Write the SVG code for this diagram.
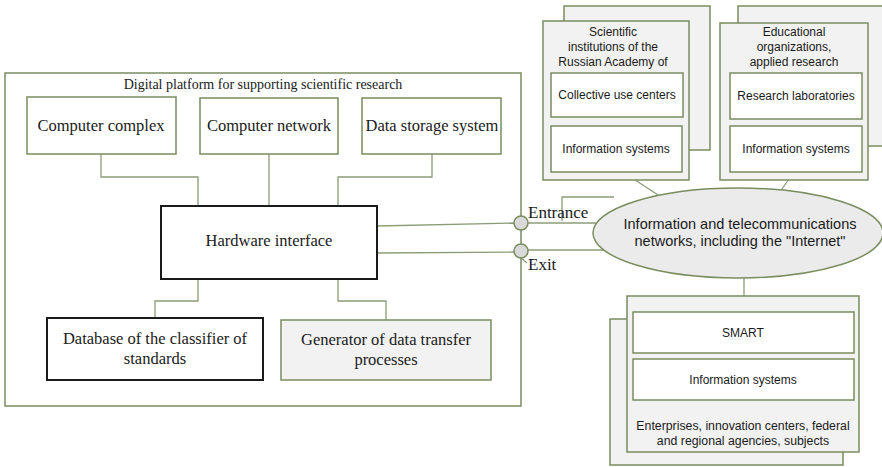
<svg xmlns="http://www.w3.org/2000/svg" width="882" height="467" viewBox="0 0 882 467">
  <style>
    .frame { fill: #ffffff; stroke: #7a8c5e; stroke-width: 1.5; }
    .box { fill: #ffffff; stroke: #7a8c5e; stroke-width: 1.5; }
    .grey { fill: #f2f2f2; stroke: #7a8c5e; stroke-width: 1.5; }
    .dark { fill: #ffffff; stroke: #1a1a1a; stroke-width: 2; }
    .wire { fill: none; stroke: #8d9c78; stroke-width: 1.3; }
    .port { fill: #d9d9d9; stroke: #7a8c5e; stroke-width: 1.5; }
    .serif { font-family: "Liberation Serif", "Times New Roman", serif; fill: #1a1a1a; text-anchor: middle; font-size: 16.5px; }
    .label { font-family: "Liberation Serif", "Times New Roman", serif; fill: #1a1a1a; text-anchor: start; font-size: 17px; }
    .sans { font-family: "Liberation Sans", Arial, sans-serif; fill: #1a1a1a; text-anchor: middle; font-size: 12px; }
  </style>

  <!-- platform frame -->
  <g id="platform">
    <rect class="frame" x="5" y="73" width="516" height="333"/>
    <text class="serif" x="263" y="89" style="font-size:14px">Digital platform for supporting scientific research</text>
  </g>

  <!-- connectors -->
  <g id="connectors">
    <polyline class="wire" points="101,154 101,177 198,177 198,206"/>
    <line class="wire" x1="269" y1="154" x2="269" y2="206"/>
    <polyline class="wire" points="432,154 432,177 338,177 338,206"/>
    <polyline class="wire" points="198,279 198,301 155,301 155,318"/>
    <polyline class="wire" points="338,279 338,301 386,301 386,320"/>
    <line class="wire" x1="377" y1="226" x2="515" y2="223"/>
    <line class="wire" x1="377" y1="253" x2="515" y2="252"/>
    <line class="wire" x1="528" y1="223" x2="596" y2="223"/>
    <line class="wire" x1="528" y1="250" x2="610" y2="250"/>
    <line class="wire" x1="521" y1="258" x2="527" y2="263"/>
    <polyline class="wire" points="562,221 562,197 614,197"/>
    <line class="wire" x1="617" y1="168" x2="658" y2="195"/>
    <line class="wire" x1="795" y1="170" x2="780" y2="192"/>
    <line class="wire" x1="744" y1="278" x2="744" y2="312"/>
  </g>

  <g id="computer-complex">
    <rect class="box" x="27" y="97" width="149" height="57"/>
    <text class="serif" x="101" y="131">Computer complex</text>
  </g>
  <g id="computer-network">
    <rect class="box" x="200" y="98" width="138" height="56"/>
    <text class="serif" x="269" y="131">Computer network</text>
  </g>
  <g id="data-storage">
    <rect class="box" x="362" y="98" width="139" height="56"/>
    <text class="serif" x="432" y="131">Data storage system</text>
  </g>
  <g id="hardware-interface">
    <rect class="dark" x="161" y="206" width="216" height="73"/>
    <text class="serif" x="269" y="246">Hardware interface</text>
  </g>
  <g id="database">
    <rect class="dark" x="47" y="318" width="216" height="62"/>
    <text class="serif" x="155" y="344">Database of the classifier of</text>
    <text class="serif" x="155" y="364">standards</text>
  </g>
  <g id="generator">
    <rect class="grey" x="281" y="320" width="210" height="60"/>
    <text class="serif" x="386" y="345">Generator of data transfer</text>
    <text class="serif" x="386" y="365">processes</text>
  </g>

  <!-- entrance / exit ports -->
  <g id="entrance">
    <circle class="port" cx="521" cy="223" r="7"/>
    <text class="label" x="528" y="218">Entrance</text>
  </g>
  <g id="exit">
    <circle class="port" cx="521" cy="251" r="7"/>
    <text class="label" x="528" y="270">Exit</text>
  </g>

  <g id="academy">
    <rect class="grey" x="564" y="6" width="146" height="144"/>
    <rect class="grey" x="543" y="21" width="146" height="159"/>
    <text class="sans" x="613" y="36">Scientific</text>
    <text class="sans" x="613" y="51">institutions of the</text>
    <text class="sans" x="613" y="66">Russian Academy of</text>
    <rect class="box" x="551" y="73" width="132" height="44"/>
    <text class="sans" x="617" y="99">Collective use centers</text>
    <rect class="box" x="551" y="126" width="131" height="46"/>
    <text class="sans" x="616" y="153">Information systems</text>
  </g>

  <g id="education">
    <rect class="grey" x="738" y="6" width="150" height="140"/>
    <rect class="grey" x="720" y="23" width="148" height="157"/>
    <text class="sans" x="794" y="36">Educational</text>
    <text class="sans" x="794" y="51">organizations,</text>
    <text class="sans" x="794" y="66">applied research</text>
    <rect class="box" x="730" y="73" width="132" height="46"/>
    <text class="sans" x="796" y="100">Research laboratories</text>
    <rect class="box" x="730" y="126" width="132" height="46"/>
    <text class="sans" x="796" y="153">Information systems</text>
  </g>

  <g id="networks">
    <ellipse cx="738" cy="233" rx="145" ry="45" fill="#ebebeb" stroke="#7a8c5e" stroke-width="1.5"/>
    <text class="sans" x="740" y="229" style="font-size:14.5px">Information and telecommunications</text>
    <text class="sans" x="740" y="246" style="font-size:14.5px">networks, including the "Internet"</text>
  </g>

  <g id="enterprises">
    <rect class="grey" x="610" y="319" width="233" height="146"/>
    <rect class="grey" x="627" y="296" width="232" height="156"/>
    <rect class="box" x="633" y="312" width="221" height="41"/>
    <text class="sans" x="743" y="337">SMART</text>
    <rect class="box" x="633" y="359" width="221" height="41"/>
    <text class="sans" x="743" y="384">Information systems</text>
    <text class="sans" x="743" y="430" style="font-size:12.3px">Enterprises, innovation centers, federal</text>
    <text class="sans" x="743" y="445" style="font-size:12.3px">and regional agencies, subjects</text>
  </g>
</svg>
